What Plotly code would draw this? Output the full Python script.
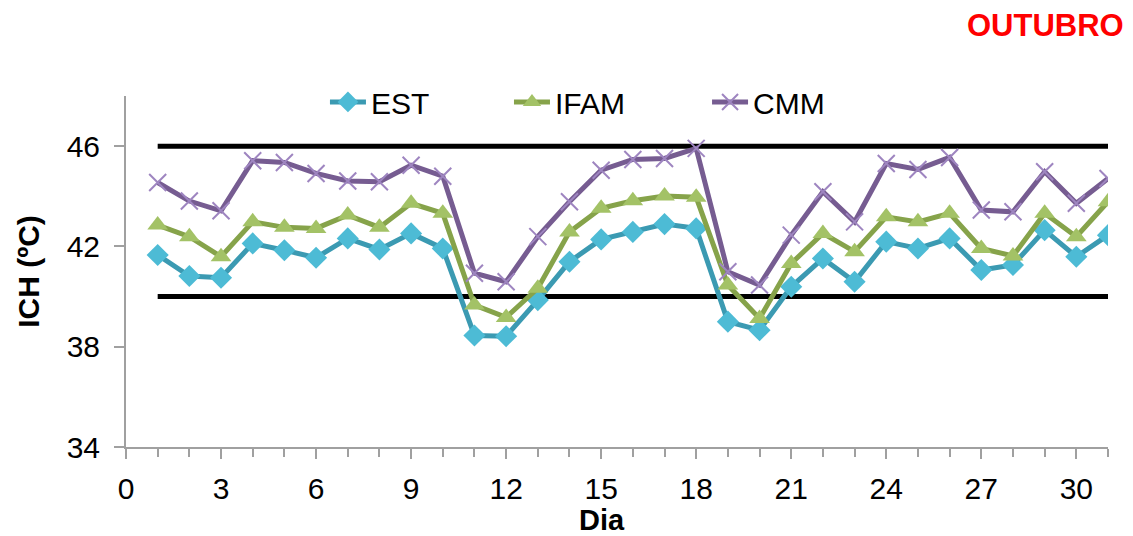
import plotly.graph_objects as go

dias = list(range(1, 32))

est = [41.66, 40.82, 40.75, 42.12, 41.85, 41.55, 42.32, 41.88, 42.52, 41.92,
       38.45, 38.42, 39.86, 41.39, 42.28, 42.58, 42.89, 42.72, 39.00, 38.66,
       40.39, 41.52, 40.59, 42.19, 41.92, 42.32, 41.06, 41.26, 42.65, 41.59, 42.45]

ifam = [42.85, 42.39, 41.59, 42.98, 42.76, 42.72, 43.25, 42.76, 43.72, 43.32,
        39.66, 39.17, 40.33, 42.58, 43.52, 43.82, 44.01, 43.96, 40.46, 39.13,
        41.32, 42.52, 41.79, 43.18, 42.98, 43.32, 41.92, 41.62, 43.32, 42.39, 43.78]

cmm = [44.55, 43.81, 43.42, 45.42, 45.35, 44.91, 44.61, 44.58, 45.24, 44.80,
       40.93, 40.59, 42.39, 43.78, 45.04, 45.47, 45.51, 45.91, 40.99, 40.46,
       42.45, 44.18, 42.98, 45.31, 45.07, 45.55, 43.45, 43.38, 44.98, 43.72, 44.71]

limite_inferior = 40
limite_superior = 46

FONT = "Liberation Sans, Arial, sans-serif"
FS = 30

fig = go.Figure()

# Comfort limits drawn as thick black lines across the month
for lim in (limite_inferior, limite_superior):
    fig.add_trace(go.Scatter(
        x=[dias[0], dias[-1]], y=[lim, lim], mode="lines",
        line=dict(color="black", width=5), showlegend=False, hoverinfo="skip"))

fig.add_trace(go.Scatter(
    x=dias, y=est, name="EST", mode="lines+markers", legend="legend",
    line=dict(color="#3B9AB2", width=5),
    marker=dict(symbol="diamond", size=17, color="#4DBBD5",
                line=dict(width=0))))

fig.add_trace(go.Scatter(
    x=dias, y=ifam, name="IFAM", mode="lines+markers", legend="legend2",
    line=dict(color="#86A34A", width=5),
    marker=dict(symbol="triangle-up", size=18, color="#A3C266",
                line=dict(width=0))))

fig.add_trace(go.Scatter(
    x=dias, y=cmm, name="CMM", mode="lines+markers", legend="legend3",
    line=dict(color="#765C91", width=5),
    marker=dict(symbol="x-thin", size=17, color="#9E85C0",
                line=dict(width=2, color="#9E85C0"))))

# One legend per series so each entry sits at its own spot in the top row
legend_style = dict(orientation="h", y=0.983, xanchor="left", yanchor="middle",
                    font=dict(size=FS, family=FONT), bgcolor="rgba(0,0,0,0)",
                    itemwidth=36)

PLOT_W, PLOT_H, PLOT_L, PLOT_B = 982, 351, 126, 447

fig.update_layout(
    width=1133, height=536,
    margin=dict(l=126, r=25, t=96, b=89),
    paper_bgcolor="white", plot_bgcolor="white",
    font=dict(family=FONT, size=FS, color="black"),
    showlegend=True,
    legend=dict(x=0.2026, **legend_style),
    legend2=dict(x=0.390, **legend_style),
    legend3=dict(x=0.5917, **legend_style),
)

fig.add_annotation(text="<b>OUTUBRO</b>", xref="paper", yref="paper",
                   x=(1126 - PLOT_L) / PLOT_W, y=(PLOT_B - 26) / PLOT_H,
                   xanchor="right", yanchor="middle", showarrow=False,
                   font=dict(family=FONT, size=31, color="#FF0000"))

# x-axis title placed under the tick labels
fig.add_annotation(text="<b>Dia</b>", xref="paper", yref="paper",
                   x=(602 - PLOT_L) / PLOT_W, y=(PLOT_B - 520) / PLOT_H,
                   xanchor="center", yanchor="middle", showarrow=False,
                   font=dict(family=FONT, size=29, color="black"))

fig.update_xaxes(
    range=[0, 31], tickmode="linear", tick0=0, dtick=3,
    showgrid=False, zeroline=False, automargin=False,
    showline=True, linecolor="#A0A0A0", linewidth=2,
    ticks="outside", ticklen=10, tickcolor="#A0A0A0", tickwidth=2,
    minor=dict(dtick=1, ticks="outside", ticklen=8, tickcolor="#A0A0A0", tickwidth=2),
    tickfont=dict(size=FS, family=FONT), ticklabelstandoff=4,
)
fig.update_yaxes(
    range=[34, 48], tickmode="array", tickvals=[34, 38, 42, 46],
    showgrid=False, zeroline=False, automargin=False,
    showline=True, linecolor="#A0A0A0", linewidth=2,
    ticks="outside", ticklen=10, tickcolor="#A0A0A0", tickwidth=2,
    tickfont=dict(size=FS, family=FONT), ticklabelstandoff=8,
    title=dict(text="<b>ICH (ºC)</b>", font=dict(size=FS, family=FONT), standoff=18),
)

fig.write_html("out.html")
